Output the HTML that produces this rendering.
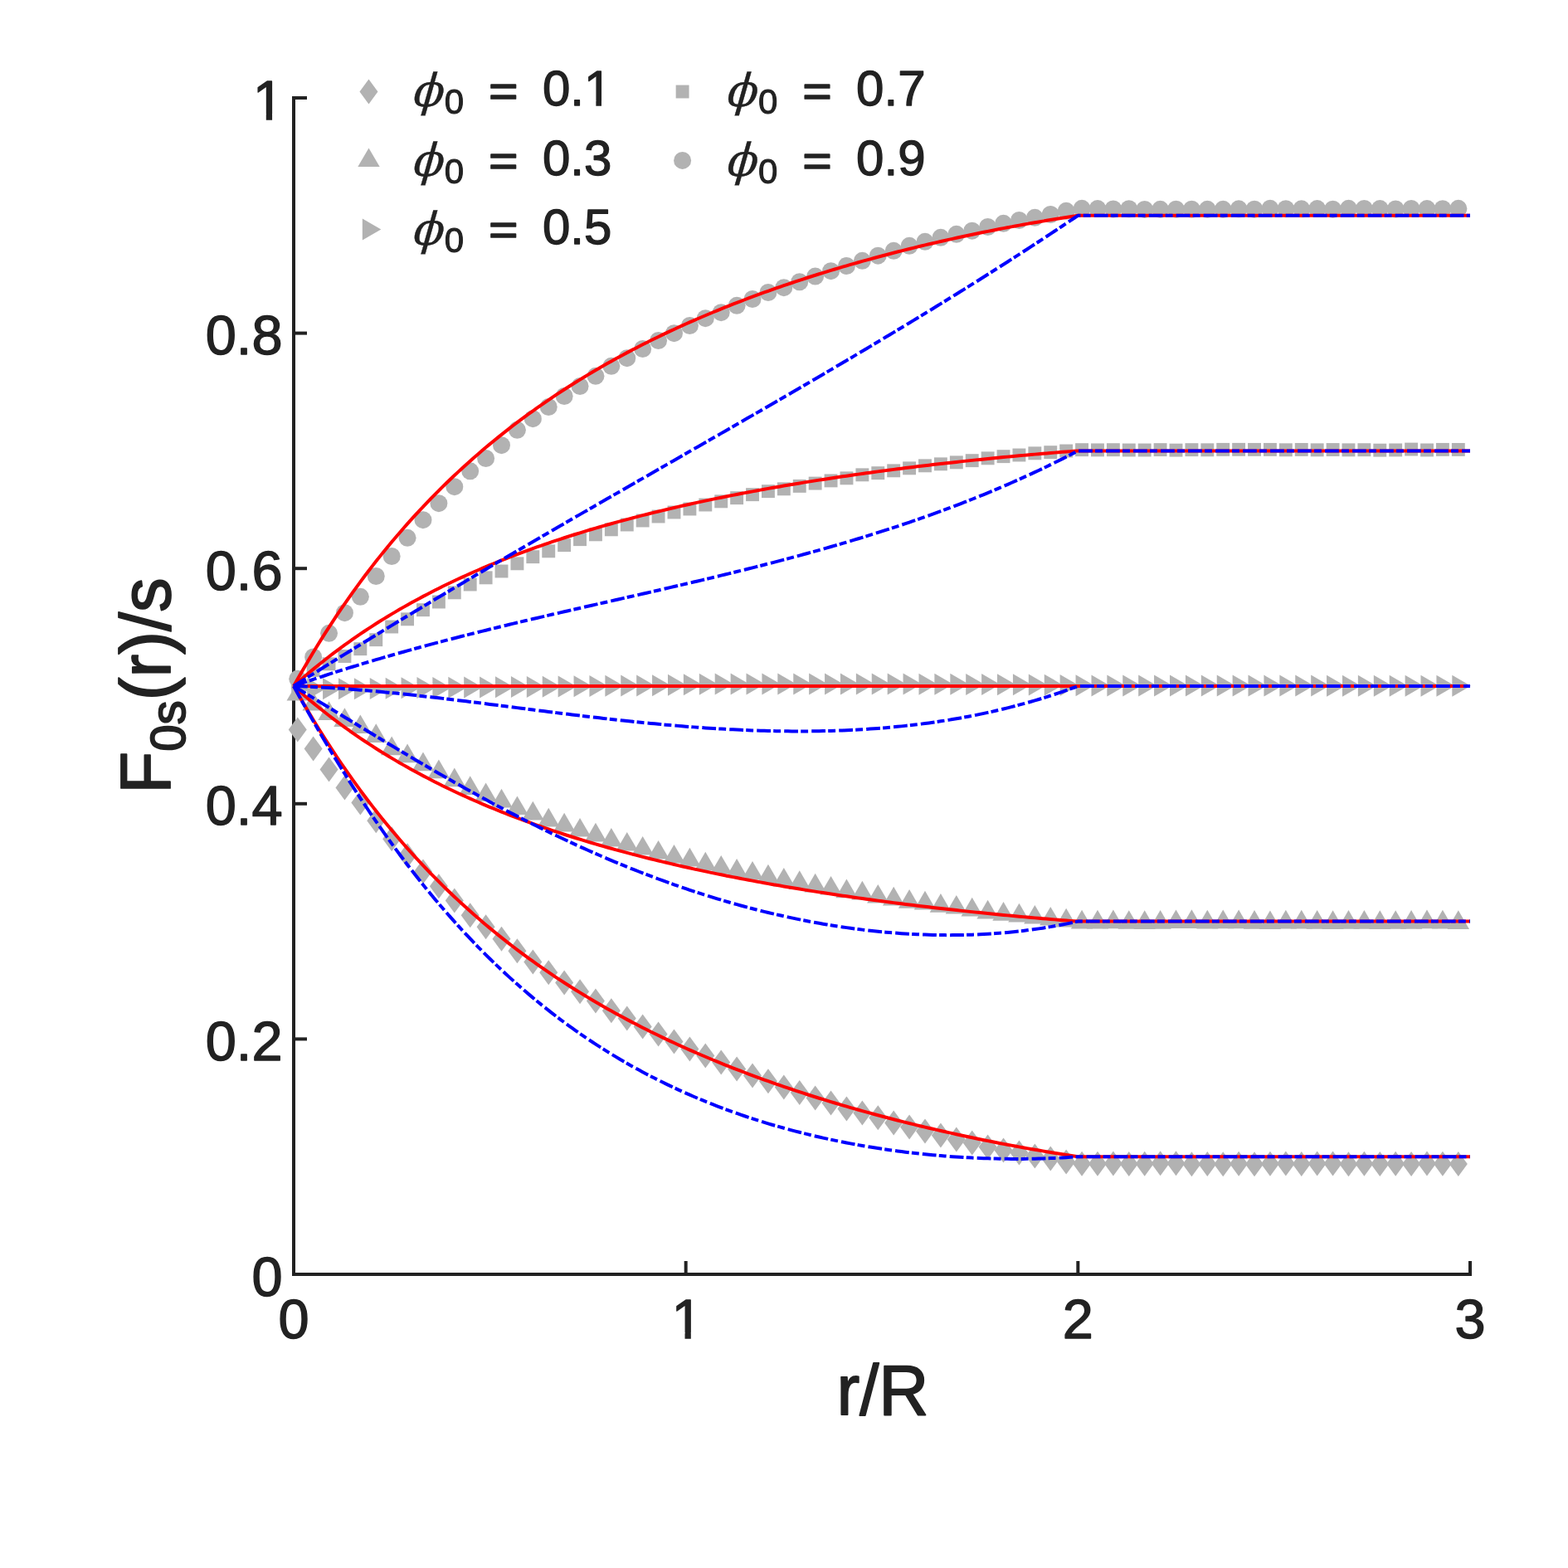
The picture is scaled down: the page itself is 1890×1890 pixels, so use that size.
<!DOCTYPE html><html><head><meta charset="utf-8"><title>F0s(r)/s</title>
<style>html,body{margin:0;padding:0;background:#fff}svg{display:block}text{font-family:"Liberation Sans",Arial,Helvetica,sans-serif;fill:#222222;stroke:#222222;stroke-linejoin:round}</style></head><body>
<svg width="1890" height="1890" viewBox="0 0 1890 1890">
<rect width="1890" height="1890" fill="#ffffff"/>
<g stroke="#222222" stroke-width="4" fill="none" stroke-linecap="butt">
<path d="M354 116V1538"/>
<path d="M352 1536H1774"/>
<path d="M354 1252.40H370"/>
<path d="M354 968.80H370"/>
<path d="M354 685.20H370"/>
<path d="M354 401.60H370"/>
<path d="M354 118.00H370"/>
<path d="M826.67 1536V1520"/>
<path d="M1299.33 1536V1520"/>
<path d="M1772.00 1536V1520"/>
</g>
<g font-size="66.7px" stroke-width="1.4">
<text x="340.5" y="1561.5" text-anchor="end">0</text>
<text x="340.5" y="1277.9" text-anchor="end">0.2</text>
<text x="340.5" y="994.3" text-anchor="end">0.4</text>
<text x="340.5" y="710.7" text-anchor="end">0.6</text>
<text x="340.5" y="427.1" text-anchor="end">0.8</text>
<text x="341.8" y="143.5" text-anchor="end">1</text>
<text x="354.0" y="1612.5" text-anchor="middle">0</text>
<text x="828.0" y="1612.5" text-anchor="middle">1</text>
<text x="1299.3" y="1612.5" text-anchor="middle">2</text>
<text x="1772.0" y="1612.5" text-anchor="middle">3</text>
</g>
<rect x="308.09" y="137.22" width="12.69" height="7.98" fill="#ffffff"/><rect x="328.07" y="137.22" width="12.17" height="7.98" fill="#ffffff"/><rect x="812.83" y="1606.22" width="12.69" height="7.98" fill="#ffffff"/><rect x="832.82" y="1606.22" width="12.17" height="7.98" fill="#ffffff"/>
<text transform="translate(1064 1704.8) scale(1 1.03)" font-size="83.3px" stroke-width="1.7" text-anchor="middle">r/R</text>
<text transform="translate(204.6 826.5) rotate(-90) scale(1 1.03)" font-size="83.3px" stroke-width="1.7" text-anchor="middle">F<tspan font-size="58.3px" dy="17.5">0s</tspan><tspan dy="-17.5">(r)/s</tspan></text>
<g fill="#b2b2b2">
<path d="M358.73 864.50L369.73 879.50L358.73 894.50L347.73 879.50Z"/>
<path d="M377.63 887.50L388.63 902.50L377.63 917.50L366.63 902.50Z"/>
<path d="M396.54 912.50L407.54 927.50L396.54 942.50L385.54 927.50Z"/>
<path d="M415.45 934.50L426.45 949.50L415.45 964.50L404.45 949.50Z"/>
<path d="M434.35 952.50L445.35 967.50L434.35 982.50L423.35 967.50Z"/>
<path d="M453.26 974.33L464.26 989.33L453.26 1004.33L442.26 989.33Z"/>
<path d="M472.17 996.17L483.17 1011.17L472.17 1026.17L461.17 1011.17Z"/>
<path d="M491.07 1016.33L502.07 1031.33L491.07 1046.33L480.07 1031.33Z"/>
<path d="M509.98 1035.50L520.98 1050.50L509.98 1065.50L498.98 1050.50Z"/>
<path d="M528.89 1053.33L539.89 1068.33L528.89 1083.33L517.89 1068.33Z"/>
<path d="M547.79 1070.50L558.79 1085.50L547.79 1100.50L536.79 1085.50Z"/>
<path d="M566.70 1088.33L577.70 1103.33L566.70 1118.33L555.70 1103.33Z"/>
<path d="M585.61 1102.17L596.61 1117.17L585.61 1132.17L574.61 1117.17Z"/>
<path d="M604.51 1116.67L615.51 1131.67L604.51 1146.67L593.51 1131.67Z"/>
<path d="M623.42 1131.17L634.42 1146.17L623.42 1161.17L612.42 1146.17Z"/>
<path d="M642.33 1144.38L653.33 1159.38L642.33 1174.38L631.33 1159.38Z"/>
<path d="M661.23 1157.33L672.23 1172.33L661.23 1187.33L650.23 1172.33Z"/>
<path d="M680.14 1169.42L691.14 1184.42L680.14 1199.42L669.14 1184.42Z"/>
<path d="M699.05 1180.25L710.05 1195.25L699.05 1210.25L688.05 1195.25Z"/>
<path d="M717.95 1191.42L728.95 1206.42L717.95 1221.42L706.95 1206.42Z"/>
<path d="M736.86 1203.33L747.86 1218.33L736.86 1233.33L725.86 1218.33Z"/>
<path d="M755.77 1212.42L766.77 1227.42L755.77 1242.42L744.77 1227.42Z"/>
<path d="M774.67 1222.50L785.67 1237.50L774.67 1252.50L763.67 1237.50Z"/>
<path d="M793.58 1231.42L804.58 1246.42L793.58 1261.42L782.58 1246.42Z"/>
<path d="M812.49 1240.42L823.49 1255.42L812.49 1270.42L801.49 1255.42Z"/>
<path d="M831.39 1249.42L842.39 1264.42L831.39 1279.42L820.39 1264.42Z"/>
<path d="M850.30 1257.50L861.30 1272.50L850.30 1287.50L839.30 1272.50Z"/>
<path d="M869.21 1265.42L880.21 1280.42L869.21 1295.42L858.21 1280.42Z"/>
<path d="M888.11 1273.42L899.11 1288.42L888.11 1303.42L877.11 1288.42Z"/>
<path d="M907.02 1281.42L918.02 1296.42L907.02 1311.42L896.02 1296.42Z"/>
<path d="M925.93 1288.33L936.93 1303.33L925.93 1318.33L914.93 1303.33Z"/>
<path d="M944.83 1295.58L955.83 1310.58L944.83 1325.58L933.83 1310.58Z"/>
<path d="M963.74 1302.11L974.74 1317.11L963.74 1332.11L952.74 1317.11Z"/>
<path d="M982.65 1308.39L993.65 1323.39L982.65 1338.39L971.65 1323.39Z"/>
<path d="M1001.55 1314.42L1012.55 1329.42L1001.55 1344.42L990.55 1329.42Z"/>
<path d="M1020.46 1321.50L1031.46 1336.50L1020.46 1351.50L1009.46 1336.50Z"/>
<path d="M1039.37 1326.42L1050.37 1341.42L1039.37 1356.42L1028.37 1341.42Z"/>
<path d="M1058.27 1332.25L1069.27 1347.25L1058.27 1362.25L1047.27 1347.25Z"/>
<path d="M1077.18 1338.50L1088.18 1353.50L1077.18 1368.50L1066.18 1353.50Z"/>
<path d="M1096.09 1343.50L1107.09 1358.50L1096.09 1373.50L1085.09 1358.50Z"/>
<path d="M1114.99 1348.50L1125.99 1363.50L1114.99 1378.50L1103.99 1363.50Z"/>
<path d="M1133.90 1353.50L1144.90 1368.50L1133.90 1383.50L1122.90 1368.50Z"/>
<path d="M1152.81 1358.50L1163.81 1373.50L1152.81 1388.50L1141.81 1373.50Z"/>
<path d="M1171.71 1362.50L1182.71 1377.50L1171.71 1392.50L1160.71 1377.50Z"/>
<path d="M1190.62 1367.50L1201.62 1382.50L1190.62 1397.50L1179.62 1382.50Z"/>
<path d="M1209.53 1371.42L1220.53 1386.42L1209.53 1401.42L1198.53 1386.42Z"/>
<path d="M1228.43 1374.42L1239.43 1389.42L1228.43 1404.42L1217.43 1389.42Z"/>
<path d="M1247.34 1378.58L1258.34 1393.58L1247.34 1408.58L1236.34 1393.58Z"/>
<path d="M1266.25 1381.50L1277.25 1396.50L1266.25 1411.50L1255.25 1396.50Z"/>
<path d="M1285.15 1385.42L1296.15 1400.42L1285.15 1415.42L1274.15 1400.42Z"/>
<path d="M1304.06 1387.67L1315.06 1402.67L1304.06 1417.67L1293.06 1402.67Z"/>
<path d="M1322.97 1387.65L1333.97 1402.65L1322.97 1417.65L1311.97 1402.65Z"/>
<path d="M1341.87 1387.46L1352.87 1402.46L1341.87 1417.46L1330.87 1402.46Z"/>
<path d="M1360.78 1387.96L1371.78 1402.96L1360.78 1417.96L1349.78 1402.96Z"/>
<path d="M1379.69 1387.70L1390.69 1402.70L1379.69 1417.70L1368.69 1402.70Z"/>
<path d="M1398.59 1387.24L1409.59 1402.24L1398.59 1417.24L1387.59 1402.24Z"/>
<path d="M1417.50 1387.23L1428.50 1402.23L1417.50 1417.23L1406.50 1402.23Z"/>
<path d="M1436.41 1388.16L1447.41 1403.16L1436.41 1418.16L1425.41 1403.16Z"/>
<path d="M1455.31 1388.06L1466.31 1403.06L1455.31 1418.06L1444.31 1403.06Z"/>
<path d="M1474.22 1388.25L1485.22 1403.25L1474.22 1418.25L1463.22 1403.25Z"/>
<path d="M1493.13 1387.78L1504.13 1402.78L1493.13 1417.78L1482.13 1402.78Z"/>
<path d="M1512.03 1388.27L1523.03 1403.27L1512.03 1418.27L1501.03 1403.27Z"/>
<path d="M1530.94 1387.76L1541.94 1402.76L1530.94 1417.76L1519.94 1402.76Z"/>
<path d="M1549.85 1387.53L1560.85 1402.53L1549.85 1417.53L1538.85 1402.53Z"/>
<path d="M1568.75 1387.97L1579.75 1402.97L1568.75 1417.97L1557.75 1402.97Z"/>
<path d="M1587.66 1387.50L1598.66 1402.50L1587.66 1417.50L1576.66 1402.50Z"/>
<path d="M1606.57 1387.60L1617.57 1402.60L1606.57 1417.60L1595.57 1402.60Z"/>
<path d="M1625.47 1388.28L1636.47 1403.28L1625.47 1418.28L1614.47 1403.28Z"/>
<path d="M1644.38 1387.64L1655.38 1402.64L1644.38 1417.64L1633.38 1402.64Z"/>
<path d="M1663.29 1388.00L1674.29 1403.00L1663.29 1418.00L1652.29 1403.00Z"/>
<path d="M1682.19 1387.81L1693.19 1402.81L1682.19 1417.81L1671.19 1402.81Z"/>
<path d="M1701.10 1387.97L1712.10 1402.97L1701.10 1417.97L1690.10 1402.97Z"/>
<path d="M1720.01 1387.48L1731.01 1402.48L1720.01 1417.48L1709.01 1402.48Z"/>
<path d="M1738.91 1387.78L1749.91 1402.78L1738.91 1417.78L1727.91 1402.78Z"/>
<path d="M1757.82 1388.12L1768.82 1403.12L1757.82 1418.12L1746.82 1403.12Z"/>
<path d="M358.73 821.90L371.93 844.60L345.53 844.60Z"/>
<path d="M377.63 833.90L390.83 856.60L364.43 856.60Z"/>
<path d="M396.54 845.23L409.74 867.93L383.34 867.93Z"/>
<path d="M415.45 853.23L428.65 875.93L402.25 875.93Z"/>
<path d="M434.35 861.40L447.55 884.10L421.15 884.10Z"/>
<path d="M453.26 872.23L466.46 894.93L440.06 894.93Z"/>
<path d="M472.17 887.57L485.37 910.27L458.97 910.27Z"/>
<path d="M491.07 896.57L504.27 919.27L477.87 919.27Z"/>
<path d="M509.98 906.57L523.18 929.27L496.78 929.27Z"/>
<path d="M528.89 915.57L542.09 938.27L515.69 938.27Z"/>
<path d="M547.79 925.57L560.99 948.27L534.59 948.27Z"/>
<path d="M566.70 935.23L579.90 957.93L553.50 957.93Z"/>
<path d="M585.61 943.40L598.81 966.10L572.41 966.10Z"/>
<path d="M604.51 950.73L617.71 973.43L591.31 973.43Z"/>
<path d="M623.42 959.40L636.62 982.10L610.22 982.10Z"/>
<path d="M642.33 965.73L655.53 988.43L629.13 988.43Z"/>
<path d="M661.23 973.73L674.43 996.43L648.03 996.43Z"/>
<path d="M680.14 979.73L693.34 1002.43L666.94 1002.43Z"/>
<path d="M699.05 985.90L712.25 1008.60L685.85 1008.60Z"/>
<path d="M717.95 991.73L731.15 1014.43L704.75 1014.43Z"/>
<path d="M736.86 997.90L750.06 1020.60L723.66 1020.60Z"/>
<path d="M755.77 1002.90L768.97 1025.60L742.57 1025.60Z"/>
<path d="M774.67 1007.90L787.87 1030.60L761.47 1030.60Z"/>
<path d="M793.58 1012.90L806.78 1035.60L780.38 1035.60Z"/>
<path d="M812.49 1017.90L825.69 1040.60L799.29 1040.60Z"/>
<path d="M831.39 1021.73L844.59 1044.43L818.19 1044.43Z"/>
<path d="M850.30 1026.73L863.50 1049.43L837.10 1049.43Z"/>
<path d="M869.21 1030.90L882.41 1053.60L856.01 1053.60Z"/>
<path d="M888.11 1035.07L901.31 1057.77L874.91 1057.77Z"/>
<path d="M907.02 1037.90L920.22 1060.60L893.82 1060.60Z"/>
<path d="M925.93 1041.73L939.13 1064.43L912.73 1064.43Z"/>
<path d="M944.83 1045.90L958.03 1068.60L931.63 1068.60Z"/>
<path d="M963.74 1049.36L976.94 1072.06L950.54 1072.06Z"/>
<path d="M982.65 1052.69L995.85 1075.39L969.45 1075.39Z"/>
<path d="M1001.55 1055.90L1014.75 1078.60L988.35 1078.60Z"/>
<path d="M1020.46 1059.57L1033.66 1082.27L1007.26 1082.27Z"/>
<path d="M1039.37 1061.73L1052.57 1084.43L1026.17 1084.43Z"/>
<path d="M1058.27 1065.90L1071.47 1088.60L1045.07 1088.60Z"/>
<path d="M1077.18 1068.73L1090.38 1091.43L1063.98 1091.43Z"/>
<path d="M1096.09 1072.07L1109.29 1094.77L1082.89 1094.77Z"/>
<path d="M1114.99 1073.73L1128.19 1096.43L1101.79 1096.43Z"/>
<path d="M1133.90 1077.07L1147.10 1099.77L1120.70 1099.77Z"/>
<path d="M1152.81 1078.90L1166.01 1101.60L1139.61 1101.60Z"/>
<path d="M1171.71 1081.73L1184.91 1104.43L1158.51 1104.43Z"/>
<path d="M1190.62 1084.73L1203.82 1107.43L1177.42 1107.43Z"/>
<path d="M1209.53 1087.07L1222.73 1109.77L1196.33 1109.77Z"/>
<path d="M1228.43 1088.73L1241.63 1111.43L1215.23 1111.43Z"/>
<path d="M1247.34 1090.90L1260.54 1113.60L1234.14 1113.60Z"/>
<path d="M1266.25 1092.90L1279.45 1115.60L1253.05 1115.60Z"/>
<path d="M1285.15 1094.73L1298.35 1117.43L1271.95 1117.43Z"/>
<path d="M1304.06 1096.73L1317.26 1119.43L1290.86 1119.43Z"/>
<path d="M1322.97 1096.86L1336.17 1119.56L1309.77 1119.56Z"/>
<path d="M1341.87 1096.58L1355.07 1119.28L1328.67 1119.28Z"/>
<path d="M1360.78 1097.15L1373.98 1119.85L1347.58 1119.85Z"/>
<path d="M1379.69 1097.25L1392.89 1119.95L1366.49 1119.95Z"/>
<path d="M1398.59 1097.05L1411.79 1119.75L1385.39 1119.75Z"/>
<path d="M1417.50 1096.39L1430.70 1119.09L1404.30 1119.09Z"/>
<path d="M1436.41 1096.35L1449.61 1119.05L1423.21 1119.05Z"/>
<path d="M1455.31 1096.71L1468.51 1119.41L1442.11 1119.41Z"/>
<path d="M1474.22 1096.43L1487.42 1119.13L1461.02 1119.13Z"/>
<path d="M1493.13 1096.50L1506.33 1119.20L1479.93 1119.20Z"/>
<path d="M1512.03 1097.06L1525.23 1119.76L1498.83 1119.76Z"/>
<path d="M1530.94 1097.41L1544.14 1120.11L1517.74 1120.11Z"/>
<path d="M1549.85 1096.73L1563.05 1119.43L1536.65 1119.43Z"/>
<path d="M1568.75 1096.85L1581.95 1119.55L1555.55 1119.55Z"/>
<path d="M1587.66 1097.08L1600.86 1119.78L1574.46 1119.78Z"/>
<path d="M1606.57 1097.25L1619.77 1119.95L1593.37 1119.95Z"/>
<path d="M1625.47 1097.03L1638.67 1119.73L1612.27 1119.73Z"/>
<path d="M1644.38 1096.96L1657.58 1119.66L1631.18 1119.66Z"/>
<path d="M1663.29 1097.19L1676.49 1119.89L1650.09 1119.89Z"/>
<path d="M1682.19 1097.17L1695.39 1119.87L1668.99 1119.87Z"/>
<path d="M1701.10 1096.97L1714.30 1119.67L1687.90 1119.67Z"/>
<path d="M1720.01 1096.49L1733.21 1119.19L1706.81 1119.19Z"/>
<path d="M1738.91 1096.81L1752.11 1119.51L1725.71 1119.51Z"/>
<path d="M1757.82 1097.18L1771.02 1119.88L1744.62 1119.88Z"/>
<path d="M373.73 830.40L351.23 843.40L351.23 817.40Z"/>
<path d="M392.63 830.36L370.13 843.36L370.13 817.36Z"/>
<path d="M411.54 830.32L389.04 843.32L389.04 817.32Z"/>
<path d="M430.45 830.27L407.95 843.27L407.95 817.27Z"/>
<path d="M449.35 830.23L426.85 843.23L426.85 817.23Z"/>
<path d="M468.26 830.10L445.76 843.10L445.76 817.10Z"/>
<path d="M487.17 829.70L464.67 842.70L464.67 816.70Z"/>
<path d="M506.07 829.30L483.57 842.30L483.57 816.30Z"/>
<path d="M524.98 829.07L502.48 842.07L502.48 816.07Z"/>
<path d="M543.89 828.90L521.39 841.90L521.39 815.90Z"/>
<path d="M562.79 828.73L540.29 841.73L540.29 815.73Z"/>
<path d="M581.70 828.56L559.20 841.56L559.20 815.56Z"/>
<path d="M600.61 828.39L578.11 841.39L578.11 815.39Z"/>
<path d="M619.51 828.22L597.01 841.22L597.01 815.22Z"/>
<path d="M638.42 828.05L615.92 841.05L615.92 815.05Z"/>
<path d="M657.33 827.88L634.83 840.88L634.83 814.88Z"/>
<path d="M676.23 827.67L653.73 840.67L653.73 814.67Z"/>
<path d="M695.14 827.40L672.64 840.40L672.64 814.40Z"/>
<path d="M714.05 827.13L691.55 840.13L691.55 814.13Z"/>
<path d="M732.95 826.92L710.45 839.92L710.45 813.92Z"/>
<path d="M751.86 826.75L729.36 839.75L729.36 813.75Z"/>
<path d="M770.77 826.58L748.27 839.58L748.27 813.58Z"/>
<path d="M789.67 826.38L767.17 839.38L767.17 813.38Z"/>
<path d="M808.58 826.13L786.08 839.13L786.08 813.13Z"/>
<path d="M827.49 825.72L804.99 838.72L804.99 812.72Z"/>
<path d="M846.39 825.21L823.89 838.21L823.89 812.21Z"/>
<path d="M865.30 824.86L842.80 837.86L842.80 811.86Z"/>
<path d="M884.21 824.60L861.71 837.60L861.71 811.60Z"/>
<path d="M903.11 824.60L880.61 837.60L880.61 811.60Z"/>
<path d="M922.02 824.60L899.52 837.60L899.52 811.60Z"/>
<path d="M940.93 824.60L918.43 837.60L918.43 811.60Z"/>
<path d="M959.83 824.60L937.33 837.60L937.33 811.60Z"/>
<path d="M978.74 824.60L956.24 837.60L956.24 811.60Z"/>
<path d="M997.65 824.60L975.15 837.60L975.15 811.60Z"/>
<path d="M1016.55 824.60L994.05 837.60L994.05 811.60Z"/>
<path d="M1035.46 824.60L1012.96 837.60L1012.96 811.60Z"/>
<path d="M1054.37 824.60L1031.87 837.60L1031.87 811.60Z"/>
<path d="M1073.27 824.60L1050.77 837.60L1050.77 811.60Z"/>
<path d="M1092.18 824.60L1069.68 837.60L1069.68 811.60Z"/>
<path d="M1111.09 824.60L1088.59 837.60L1088.59 811.60Z"/>
<path d="M1129.99 824.63L1107.49 837.63L1107.49 811.63Z"/>
<path d="M1148.90 824.75L1126.40 837.75L1126.40 811.75Z"/>
<path d="M1167.81 824.87L1145.31 837.87L1145.31 811.87Z"/>
<path d="M1186.71 824.99L1164.21 837.99L1164.21 811.99Z"/>
<path d="M1205.62 825.11L1183.12 838.11L1183.12 812.11Z"/>
<path d="M1224.53 825.23L1202.03 838.23L1202.03 812.23Z"/>
<path d="M1243.43 825.35L1220.93 838.35L1220.93 812.35Z"/>
<path d="M1262.34 825.47L1239.84 838.47L1239.84 812.47Z"/>
<path d="M1281.25 825.70L1258.75 838.70L1258.75 812.70Z"/>
<path d="M1300.15 825.97L1277.65 838.97L1277.65 812.97Z"/>
<path d="M1319.06 826.23L1296.56 839.23L1296.56 813.23Z"/>
<path d="M1337.97 826.50L1315.47 839.50L1315.47 813.50Z"/>
<path d="M1356.87 826.51L1334.37 839.51L1334.37 813.51Z"/>
<path d="M1375.78 826.52L1353.28 839.52L1353.28 813.52Z"/>
<path d="M1394.69 826.53L1372.19 839.53L1372.19 813.53Z"/>
<path d="M1413.59 826.53L1391.09 839.53L1391.09 813.53Z"/>
<path d="M1432.50 826.54L1410.00 839.54L1410.00 813.54Z"/>
<path d="M1451.41 826.55L1428.91 839.55L1428.91 813.55Z"/>
<path d="M1470.31 826.56L1447.81 839.56L1447.81 813.56Z"/>
<path d="M1489.22 826.57L1466.72 839.57L1466.72 813.57Z"/>
<path d="M1508.13 826.58L1485.63 839.58L1485.63 813.58Z"/>
<path d="M1527.03 826.58L1504.53 839.58L1504.53 813.58Z"/>
<path d="M1545.94 826.59L1523.44 839.59L1523.44 813.59Z"/>
<path d="M1564.85 826.60L1542.35 839.60L1542.35 813.60Z"/>
<path d="M1583.75 826.61L1561.25 839.61L1561.25 813.61Z"/>
<path d="M1602.66 826.62L1580.16 839.62L1580.16 813.62Z"/>
<path d="M1621.57 826.63L1599.07 839.63L1599.07 813.63Z"/>
<path d="M1640.47 826.63L1617.97 839.63L1617.97 813.63Z"/>
<path d="M1659.38 826.64L1636.88 839.64L1636.88 813.64Z"/>
<path d="M1678.29 826.65L1655.79 839.65L1655.79 813.65Z"/>
<path d="M1697.19 826.66L1674.69 839.66L1674.69 813.66Z"/>
<path d="M1716.10 826.67L1693.60 839.67L1693.60 813.67Z"/>
<path d="M1735.01 826.68L1712.51 839.68L1712.51 813.68Z"/>
<path d="M1753.91 826.69L1731.41 839.69L1731.41 813.69Z"/>
<path d="M1772.82 826.69L1750.32 839.69L1750.32 813.69Z"/>
<rect x="350.78" y="814.83" width="15.90" height="15.90"/>
<rect x="369.68" y="799.99" width="15.90" height="15.90"/>
<rect x="388.59" y="792.37" width="15.90" height="15.90"/>
<rect x="407.50" y="783.05" width="15.90" height="15.90"/>
<rect x="426.40" y="774.22" width="15.90" height="15.90"/>
<rect x="445.31" y="763.22" width="15.90" height="15.90"/>
<rect x="464.22" y="747.55" width="15.90" height="15.90"/>
<rect x="483.12" y="738.38" width="15.90" height="15.90"/>
<rect x="502.03" y="727.22" width="15.90" height="15.90"/>
<rect x="520.94" y="717.55" width="15.90" height="15.90"/>
<rect x="539.84" y="706.38" width="15.90" height="15.90"/>
<rect x="558.75" y="696.55" width="15.90" height="15.90"/>
<rect x="577.66" y="688.38" width="15.90" height="15.90"/>
<rect x="596.56" y="680.55" width="15.90" height="15.90"/>
<rect x="615.47" y="671.38" width="15.90" height="15.90"/>
<rect x="634.38" y="663.22" width="15.90" height="15.90"/>
<rect x="653.28" y="656.38" width="15.90" height="15.90"/>
<rect x="672.19" y="649.22" width="15.90" height="15.90"/>
<rect x="691.10" y="642.22" width="15.90" height="15.90"/>
<rect x="710.00" y="636.38" width="15.90" height="15.90"/>
<rect x="728.91" y="630.38" width="15.90" height="15.90"/>
<rect x="747.82" y="624.55" width="15.90" height="15.90"/>
<rect x="766.72" y="619.55" width="15.90" height="15.90"/>
<rect x="785.63" y="614.55" width="15.90" height="15.90"/>
<rect x="804.54" y="609.55" width="15.90" height="15.90"/>
<rect x="823.44" y="605.55" width="15.90" height="15.90"/>
<rect x="842.35" y="600.55" width="15.90" height="15.90"/>
<rect x="861.26" y="596.38" width="15.90" height="15.90"/>
<rect x="880.16" y="592.22" width="15.90" height="15.90"/>
<rect x="899.07" y="588.22" width="15.90" height="15.90"/>
<rect x="917.98" y="584.22" width="15.90" height="15.90"/>
<rect x="936.88" y="581.38" width="15.90" height="15.90"/>
<rect x="955.79" y="577.95" width="15.90" height="15.90"/>
<rect x="974.70" y="574.64" width="15.90" height="15.90"/>
<rect x="993.60" y="571.45" width="15.90" height="15.90"/>
<rect x="1012.51" y="568.38" width="15.90" height="15.90"/>
<rect x="1031.42" y="564.38" width="15.90" height="15.90"/>
<rect x="1050.32" y="562.22" width="15.90" height="15.90"/>
<rect x="1069.23" y="559.38" width="15.90" height="15.90"/>
<rect x="1088.14" y="556.38" width="15.90" height="15.90"/>
<rect x="1107.04" y="553.38" width="15.90" height="15.90"/>
<rect x="1125.95" y="551.38" width="15.90" height="15.90"/>
<rect x="1144.86" y="549.38" width="15.90" height="15.90"/>
<rect x="1163.76" y="547.22" width="15.90" height="15.90"/>
<rect x="1182.67" y="544.38" width="15.90" height="15.90"/>
<rect x="1201.58" y="542.22" width="15.90" height="15.90"/>
<rect x="1220.48" y="540.55" width="15.90" height="15.90"/>
<rect x="1239.39" y="538.38" width="15.90" height="15.90"/>
<rect x="1258.30" y="537.22" width="15.90" height="15.90"/>
<rect x="1277.20" y="535.55" width="15.90" height="15.90"/>
<rect x="1296.11" y="534.22" width="15.90" height="15.90"/>
<rect x="1315.02" y="534.44" width="15.90" height="15.90"/>
<rect x="1333.92" y="534.23" width="15.90" height="15.90"/>
<rect x="1352.83" y="534.53" width="15.90" height="15.90"/>
<rect x="1371.74" y="534.53" width="15.90" height="15.90"/>
<rect x="1390.64" y="534.16" width="15.90" height="15.90"/>
<rect x="1409.55" y="534.67" width="15.90" height="15.90"/>
<rect x="1428.46" y="534.19" width="15.90" height="15.90"/>
<rect x="1447.36" y="534.34" width="15.90" height="15.90"/>
<rect x="1466.27" y="533.92" width="15.90" height="15.90"/>
<rect x="1485.18" y="533.88" width="15.90" height="15.90"/>
<rect x="1504.08" y="533.94" width="15.90" height="15.90"/>
<rect x="1522.99" y="533.95" width="15.90" height="15.90"/>
<rect x="1541.90" y="534.33" width="15.90" height="15.90"/>
<rect x="1560.80" y="533.97" width="15.90" height="15.90"/>
<rect x="1579.71" y="534.37" width="15.90" height="15.90"/>
<rect x="1598.62" y="534.09" width="15.90" height="15.90"/>
<rect x="1617.52" y="534.38" width="15.90" height="15.90"/>
<rect x="1636.43" y="534.24" width="15.90" height="15.90"/>
<rect x="1655.34" y="534.70" width="15.90" height="15.90"/>
<rect x="1674.24" y="534.48" width="15.90" height="15.90"/>
<rect x="1693.15" y="533.61" width="15.90" height="15.90"/>
<rect x="1712.06" y="534.50" width="15.90" height="15.90"/>
<rect x="1730.96" y="533.94" width="15.90" height="15.90"/>
<rect x="1749.87" y="533.99" width="15.90" height="15.90"/>
<circle cx="358.73" cy="818.33" r="10.5"/>
<circle cx="377.63" cy="792.00" r="10.5"/>
<circle cx="396.54" cy="763.33" r="10.5"/>
<circle cx="415.45" cy="738.67" r="10.5"/>
<circle cx="434.35" cy="719.33" r="10.5"/>
<circle cx="453.26" cy="694.50" r="10.5"/>
<circle cx="472.17" cy="670.50" r="10.5"/>
<circle cx="491.07" cy="648.33" r="10.5"/>
<circle cx="509.98" cy="626.67" r="10.5"/>
<circle cx="528.89" cy="606.67" r="10.5"/>
<circle cx="547.79" cy="586.67" r="10.5"/>
<circle cx="566.70" cy="567.83" r="10.5"/>
<circle cx="585.61" cy="552.50" r="10.5"/>
<circle cx="604.51" cy="536.67" r="10.5"/>
<circle cx="623.42" cy="518.33" r="10.5"/>
<circle cx="642.33" cy="504.67" r="10.5"/>
<circle cx="661.23" cy="490.50" r="10.5"/>
<circle cx="680.14" cy="477.50" r="10.5"/>
<circle cx="699.05" cy="465.50" r="10.5"/>
<circle cx="717.95" cy="453.33" r="10.5"/>
<circle cx="736.86" cy="441.33" r="10.5"/>
<circle cx="755.77" cy="431.67" r="10.5"/>
<circle cx="774.67" cy="420.50" r="10.5"/>
<circle cx="793.58" cy="410.50" r="10.5"/>
<circle cx="812.49" cy="401.67" r="10.5"/>
<circle cx="831.39" cy="392.50" r="10.5"/>
<circle cx="850.30" cy="383.67" r="10.5"/>
<circle cx="869.21" cy="376.67" r="10.5"/>
<circle cx="888.11" cy="368.33" r="10.5"/>
<circle cx="907.02" cy="360.50" r="10.5"/>
<circle cx="925.93" cy="352.50" r="10.5"/>
<circle cx="944.83" cy="346.67" r="10.5"/>
<circle cx="963.74" cy="339.75" r="10.5"/>
<circle cx="982.65" cy="333.10" r="10.5"/>
<circle cx="1001.55" cy="326.68" r="10.5"/>
<circle cx="1020.46" cy="320.50" r="10.5"/>
<circle cx="1039.37" cy="314.33" r="10.5"/>
<circle cx="1058.27" cy="308.17" r="10.5"/>
<circle cx="1077.18" cy="302.33" r="10.5"/>
<circle cx="1096.09" cy="296.33" r="10.5"/>
<circle cx="1114.99" cy="291.33" r="10.5"/>
<circle cx="1133.90" cy="286.33" r="10.5"/>
<circle cx="1152.81" cy="282.33" r="10.5"/>
<circle cx="1171.71" cy="278.17" r="10.5"/>
<circle cx="1190.62" cy="273.50" r="10.5"/>
<circle cx="1209.53" cy="269.33" r="10.5"/>
<circle cx="1228.43" cy="265.50" r="10.5"/>
<circle cx="1247.34" cy="262.33" r="10.5"/>
<circle cx="1266.25" cy="258.50" r="10.5"/>
<circle cx="1285.15" cy="254.33" r="10.5"/>
<circle cx="1304.06" cy="251.33" r="10.5"/>
<circle cx="1322.97" cy="251.59" r="10.5"/>
<circle cx="1341.87" cy="251.89" r="10.5"/>
<circle cx="1360.78" cy="251.74" r="10.5"/>
<circle cx="1379.69" cy="252.38" r="10.5"/>
<circle cx="1398.59" cy="252.37" r="10.5"/>
<circle cx="1417.50" cy="252.22" r="10.5"/>
<circle cx="1436.41" cy="252.28" r="10.5"/>
<circle cx="1455.31" cy="252.34" r="10.5"/>
<circle cx="1474.22" cy="252.30" r="10.5"/>
<circle cx="1493.13" cy="251.80" r="10.5"/>
<circle cx="1512.03" cy="252.23" r="10.5"/>
<circle cx="1530.94" cy="251.32" r="10.5"/>
<circle cx="1549.85" cy="251.64" r="10.5"/>
<circle cx="1568.75" cy="251.81" r="10.5"/>
<circle cx="1587.66" cy="251.61" r="10.5"/>
<circle cx="1606.57" cy="252.14" r="10.5"/>
<circle cx="1625.47" cy="251.35" r="10.5"/>
<circle cx="1644.38" cy="251.45" r="10.5"/>
<circle cx="1663.29" cy="251.59" r="10.5"/>
<circle cx="1682.19" cy="251.88" r="10.5"/>
<circle cx="1701.10" cy="251.45" r="10.5"/>
<circle cx="1720.01" cy="251.57" r="10.5"/>
<circle cx="1738.91" cy="251.67" r="10.5"/>
<circle cx="1757.82" cy="251.36" r="10.5"/>
</g>
<g fill="none" stroke="#ff0000" stroke-width="4" stroke-linejoin="round">
<path d="M354.00 827.00L358.73 835.43L363.45 843.72L368.18 851.87L372.91 859.88L377.63 867.75L382.36 875.49L387.09 883.09L391.81 890.57L396.54 897.93L401.27 905.17L405.99 912.28L410.72 919.28L415.45 926.16L420.17 932.94L424.90 939.60L429.63 946.16L434.35 952.61L439.08 958.96L443.81 965.21L448.53 971.36L453.26 977.41L457.99 983.37L462.71 989.24L467.44 995.02L472.17 1000.71L476.89 1006.31L481.62 1011.82L486.35 1017.26L491.07 1022.61L495.80 1027.88L500.53 1033.07L505.25 1038.18L509.98 1043.22L514.71 1048.19L519.43 1053.08L524.16 1057.90L528.89 1062.65L533.61 1067.33L538.34 1071.95L543.07 1076.50L547.79 1080.98L552.52 1085.40L557.25 1089.76L561.97 1094.05L566.70 1098.29L571.43 1102.47L576.15 1106.59L580.88 1110.65L585.61 1114.66L590.33 1118.61L595.06 1122.51L599.79 1126.35L604.51 1130.15L609.24 1133.89L613.97 1137.58L618.69 1141.23L623.42 1144.82L628.15 1148.37L632.87 1151.87L637.60 1155.33L642.33 1158.74L647.05 1162.10L651.78 1165.42L656.51 1168.70L661.23 1171.94L665.96 1175.14L670.69 1178.29L675.41 1181.41L680.14 1184.49L684.87 1187.52L689.59 1190.52L694.32 1193.49L699.05 1196.41L703.77 1199.30L708.50 1202.16L713.23 1204.98L717.95 1207.76L722.68 1210.51L727.41 1213.23L732.13 1215.92L736.86 1218.57L741.59 1221.19L746.31 1223.78L751.04 1226.34L755.77 1228.87L760.49 1231.37L765.22 1233.84L769.95 1236.28L774.67 1238.70L779.40 1241.08L784.13 1243.44L788.85 1245.77L793.58 1248.07L798.31 1250.35L803.03 1252.60L807.76 1254.83L812.49 1257.03L817.21 1259.21L821.94 1261.36L826.67 1263.49L831.39 1265.59L836.12 1267.67L840.85 1269.73L845.57 1271.77L850.30 1273.78L855.03 1275.77L859.75 1277.74L864.48 1279.69L869.21 1281.62L873.93 1283.52L878.66 1285.41L883.39 1287.27L888.11 1289.12L892.84 1290.95L897.57 1292.75L902.29 1294.54L907.02 1296.31L911.75 1298.06L916.47 1299.79L921.20 1301.51L925.93 1303.20L930.65 1304.88L935.38 1306.54L940.11 1308.18L944.83 1309.81L949.56 1311.42L954.29 1313.01L959.01 1314.59L963.74 1316.15L968.47 1317.70L973.19 1319.23L977.92 1320.74L982.65 1322.24L987.37 1323.72L992.10 1325.19L996.83 1326.64L1001.55 1328.08L1006.28 1329.50L1011.01 1330.91L1015.73 1332.31L1020.46 1333.69L1025.19 1335.06L1029.91 1336.41L1034.64 1337.75L1039.37 1339.08L1044.09 1340.39L1048.82 1341.69L1053.55 1342.98L1058.27 1344.25L1063.00 1345.52L1067.73 1346.77L1072.45 1348.00L1077.18 1349.23L1081.91 1350.44L1086.63 1351.64L1091.36 1352.83L1096.09 1354.00L1100.81 1355.17L1105.54 1356.32L1110.27 1357.46L1114.99 1358.59L1119.72 1359.70L1124.45 1360.81L1129.17 1361.91L1133.90 1362.99L1138.63 1364.06L1143.35 1365.12L1148.08 1366.17L1152.81 1367.21L1157.53 1368.24L1162.26 1369.26L1166.99 1370.26L1171.71 1371.26L1176.44 1372.24L1181.17 1373.22L1185.89 1374.18L1190.62 1375.14L1195.35 1376.08L1200.07 1377.01L1204.80 1377.93L1209.53 1378.85L1214.25 1379.75L1218.98 1380.64L1223.71 1381.52L1228.43 1382.39L1233.16 1383.25L1237.89 1384.10L1242.61 1384.94L1247.34 1385.77L1252.07 1386.59L1256.79 1387.39L1261.52 1388.19L1266.25 1388.98L1270.97 1389.76L1275.70 1390.52L1280.43 1391.28L1285.15 1392.03L1289.88 1392.76L1294.61 1393.49L1299.33 1394.20L1772.00 1394.20"/>
<path d="M354.00 827.00L358.73 831.22L363.45 835.36L368.18 839.43L372.91 843.44L377.63 847.37L382.36 851.24L387.09 855.05L391.81 858.79L396.54 862.47L401.27 866.08L405.99 869.64L410.72 873.14L415.45 876.58L420.17 879.97L424.90 883.30L429.63 886.58L434.35 889.81L439.08 892.98L443.81 896.10L448.53 899.18L453.26 902.21L457.99 905.19L462.71 908.12L467.44 911.01L472.17 913.85L476.89 916.65L481.62 919.41L486.35 922.13L491.07 924.80L495.80 927.44L500.53 930.03L505.25 932.59L509.98 935.11L514.71 937.59L519.43 940.04L524.16 942.45L528.89 944.82L533.61 947.17L538.34 949.47L543.07 951.75L547.79 953.99L552.52 956.20L557.25 958.38L561.97 960.53L566.70 962.65L571.43 964.73L576.15 966.79L580.88 968.83L585.61 970.83L590.33 972.81L595.06 974.75L599.79 976.68L604.51 978.57L609.24 980.45L613.97 982.29L618.69 984.11L623.42 985.91L628.15 987.68L632.87 989.44L637.60 991.16L642.33 992.87L647.05 994.55L651.78 996.21L656.51 997.85L661.23 999.47L665.96 1001.07L670.69 1002.65L675.41 1004.20L680.14 1005.74L684.87 1007.26L689.59 1008.76L694.32 1010.24L699.05 1011.71L703.77 1013.15L708.50 1014.58L713.23 1015.99L717.95 1017.38L722.68 1018.76L727.41 1020.12L732.13 1021.46L736.86 1022.78L741.59 1024.10L746.31 1025.39L751.04 1026.67L755.77 1027.94L760.49 1029.19L765.22 1030.42L769.95 1031.64L774.67 1032.85L779.40 1034.04L784.13 1035.22L788.85 1036.38L793.58 1037.54L798.31 1038.68L803.03 1039.80L807.76 1040.91L812.49 1042.02L817.21 1043.10L821.94 1044.18L826.67 1045.24L831.39 1046.30L836.12 1047.34L840.85 1048.37L845.57 1049.38L850.30 1050.39L855.03 1051.39L859.75 1052.37L864.48 1053.34L869.21 1054.31L873.93 1055.26L878.66 1056.20L883.39 1057.14L888.11 1058.06L892.84 1058.97L897.57 1059.88L902.29 1060.77L907.02 1061.65L911.75 1062.53L916.47 1063.40L921.20 1064.25L925.93 1065.10L930.65 1065.94L935.38 1066.77L940.11 1067.59L944.83 1068.41L949.56 1069.21L954.29 1070.01L959.01 1070.80L963.74 1071.58L968.47 1072.35L973.19 1073.11L977.92 1073.87L982.65 1074.62L987.37 1075.36L992.10 1076.09L996.83 1076.82L1001.55 1077.54L1006.28 1078.25L1011.01 1078.96L1015.73 1079.65L1020.46 1080.34L1025.19 1081.03L1029.91 1081.71L1034.64 1082.38L1039.37 1083.04L1044.09 1083.70L1048.82 1084.35L1053.55 1084.99L1058.27 1085.63L1063.00 1086.26L1067.73 1086.88L1072.45 1087.50L1077.18 1088.11L1081.91 1088.72L1086.63 1089.32L1091.36 1089.91L1096.09 1090.50L1100.81 1091.08L1105.54 1091.66L1110.27 1092.23L1114.99 1092.79L1119.72 1093.35L1124.45 1093.91L1129.17 1094.45L1133.90 1094.99L1138.63 1095.53L1143.35 1096.06L1148.08 1096.59L1152.81 1097.11L1157.53 1097.62L1162.26 1098.13L1166.99 1098.63L1171.71 1099.13L1176.44 1099.62L1181.17 1100.11L1185.89 1100.59L1190.62 1101.07L1195.35 1101.54L1200.07 1102.01L1204.80 1102.47L1209.53 1102.92L1214.25 1103.37L1218.98 1103.82L1223.71 1104.26L1228.43 1104.69L1233.16 1105.12L1237.89 1105.55L1242.61 1105.97L1247.34 1106.38L1252.07 1106.79L1256.79 1107.20L1261.52 1107.60L1266.25 1107.99L1270.97 1108.38L1275.70 1108.76L1280.43 1109.14L1285.15 1109.51L1289.88 1109.88L1294.61 1110.24L1299.33 1110.60L1772.00 1110.60"/>
<path d="M354.00 827.00L358.73 827.00L363.45 827.00L368.18 827.00L372.91 827.00L377.63 827.00L382.36 827.00L387.09 827.00L391.81 827.00L396.54 827.00L401.27 827.00L405.99 827.00L410.72 827.00L415.45 827.00L420.17 827.00L424.90 827.00L429.63 827.00L434.35 827.00L439.08 827.00L443.81 827.00L448.53 827.00L453.26 827.00L457.99 827.00L462.71 827.00L467.44 827.00L472.17 827.00L476.89 827.00L481.62 827.00L486.35 827.00L491.07 827.00L495.80 827.00L500.53 827.00L505.25 827.00L509.98 827.00L514.71 827.00L519.43 827.00L524.16 827.00L528.89 827.00L533.61 827.00L538.34 827.00L543.07 827.00L547.79 827.00L552.52 827.00L557.25 827.00L561.97 827.00L566.70 827.00L571.43 827.00L576.15 827.00L580.88 827.00L585.61 827.00L590.33 827.00L595.06 827.00L599.79 827.00L604.51 827.00L609.24 827.00L613.97 827.00L618.69 827.00L623.42 827.00L628.15 827.00L632.87 827.00L637.60 827.00L642.33 827.00L647.05 827.00L651.78 827.00L656.51 827.00L661.23 827.00L665.96 827.00L670.69 827.00L675.41 827.00L680.14 827.00L684.87 827.00L689.59 827.00L694.32 827.00L699.05 827.00L703.77 827.00L708.50 827.00L713.23 827.00L717.95 827.00L722.68 827.00L727.41 827.00L732.13 827.00L736.86 827.00L741.59 827.00L746.31 827.00L751.04 827.00L755.77 827.00L760.49 827.00L765.22 827.00L769.95 827.00L774.67 827.00L779.40 827.00L784.13 827.00L788.85 827.00L793.58 827.00L798.31 827.00L803.03 827.00L807.76 827.00L812.49 827.00L817.21 827.00L821.94 827.00L826.67 827.00L831.39 827.00L836.12 827.00L840.85 827.00L845.57 827.00L850.30 827.00L855.03 827.00L859.75 827.00L864.48 827.00L869.21 827.00L873.93 827.00L878.66 827.00L883.39 827.00L888.11 827.00L892.84 827.00L897.57 827.00L902.29 827.00L907.02 827.00L911.75 827.00L916.47 827.00L921.20 827.00L925.93 827.00L930.65 827.00L935.38 827.00L940.11 827.00L944.83 827.00L949.56 827.00L954.29 827.00L959.01 827.00L963.74 827.00L968.47 827.00L973.19 827.00L977.92 827.00L982.65 827.00L987.37 827.00L992.10 827.00L996.83 827.00L1001.55 827.00L1006.28 827.00L1011.01 827.00L1015.73 827.00L1020.46 827.00L1025.19 827.00L1029.91 827.00L1034.64 827.00L1039.37 827.00L1044.09 827.00L1048.82 827.00L1053.55 827.00L1058.27 827.00L1063.00 827.00L1067.73 827.00L1072.45 827.00L1077.18 827.00L1081.91 827.00L1086.63 827.00L1091.36 827.00L1096.09 827.00L1100.81 827.00L1105.54 827.00L1110.27 827.00L1114.99 827.00L1119.72 827.00L1124.45 827.00L1129.17 827.00L1133.90 827.00L1138.63 827.00L1143.35 827.00L1148.08 827.00L1152.81 827.00L1157.53 827.00L1162.26 827.00L1166.99 827.00L1171.71 827.00L1176.44 827.00L1181.17 827.00L1185.89 827.00L1190.62 827.00L1195.35 827.00L1200.07 827.00L1204.80 827.00L1209.53 827.00L1214.25 827.00L1218.98 827.00L1223.71 827.00L1228.43 827.00L1233.16 827.00L1237.89 827.00L1242.61 827.00L1247.34 827.00L1252.07 827.00L1256.79 827.00L1261.52 827.00L1266.25 827.00L1270.97 827.00L1275.70 827.00L1280.43 827.00L1285.15 827.00L1289.88 827.00L1294.61 827.00L1299.33 827.00L1772.00 827.00"/>
<path d="M354.00 827.00L358.73 822.78L363.45 818.64L368.18 814.57L372.91 810.56L377.63 806.63L382.36 802.76L387.09 798.95L391.81 795.21L396.54 791.53L401.27 787.92L405.99 784.36L410.72 780.86L415.45 777.42L420.17 774.03L424.90 770.70L429.63 767.42L434.35 764.19L439.08 761.02L443.81 757.90L448.53 754.82L453.26 751.79L457.99 748.81L462.71 745.88L467.44 742.99L472.17 740.15L476.89 737.35L481.62 734.59L486.35 731.87L491.07 729.20L495.80 726.56L500.53 723.97L505.25 721.41L509.98 718.89L514.71 716.41L519.43 713.96L524.16 711.55L528.89 709.18L533.61 706.83L538.34 704.53L543.07 702.25L547.79 700.01L552.52 697.80L557.25 695.62L561.97 693.47L566.70 691.35L571.43 689.27L576.15 687.21L580.88 685.17L585.61 683.17L590.33 681.19L595.06 679.25L599.79 677.32L604.51 675.43L609.24 673.55L613.97 671.71L618.69 669.89L623.42 668.09L628.15 666.32L632.87 664.56L637.60 662.84L642.33 661.13L647.05 659.45L651.78 657.79L656.51 656.15L661.23 654.53L665.96 652.93L670.69 651.35L675.41 649.80L680.14 648.26L684.87 646.74L689.59 645.24L694.32 643.76L699.05 642.29L703.77 640.85L708.50 639.42L713.23 638.01L717.95 636.62L722.68 635.24L727.41 633.88L732.13 632.54L736.86 631.22L741.59 629.90L746.31 628.61L751.04 627.33L755.77 626.06L760.49 624.81L765.22 623.58L769.95 622.36L774.67 621.15L779.40 619.96L784.13 618.78L788.85 617.62L793.58 616.46L798.31 615.32L803.03 614.20L807.76 613.09L812.49 611.98L817.21 610.90L821.94 609.82L826.67 608.76L831.39 607.70L836.12 606.66L840.85 605.63L845.57 604.62L850.30 603.61L855.03 602.61L859.75 601.63L864.48 600.66L869.21 599.69L873.93 598.74L878.66 597.80L883.39 596.86L888.11 595.94L892.84 595.03L897.57 594.12L902.29 593.23L907.02 592.35L911.75 591.47L916.47 590.60L921.20 589.75L925.93 588.90L930.65 588.06L935.38 587.23L940.11 586.41L944.83 585.59L949.56 584.79L954.29 583.99L959.01 583.20L963.74 582.42L968.47 581.65L973.19 580.89L977.92 580.13L982.65 579.38L987.37 578.64L992.10 577.91L996.83 577.18L1001.55 576.46L1006.28 575.75L1011.01 575.04L1015.73 574.35L1020.46 573.66L1025.19 572.97L1029.91 572.29L1034.64 571.62L1039.37 570.96L1044.09 570.30L1048.82 569.65L1053.55 569.01L1058.27 568.37L1063.00 567.74L1067.73 567.12L1072.45 566.50L1077.18 565.89L1081.91 565.28L1086.63 564.68L1091.36 564.09L1096.09 563.50L1100.81 562.92L1105.54 562.34L1110.27 561.77L1114.99 561.21L1119.72 560.65L1124.45 560.09L1129.17 559.55L1133.90 559.01L1138.63 558.47L1143.35 557.94L1148.08 557.41L1152.81 556.89L1157.53 556.38L1162.26 555.87L1166.99 555.37L1171.71 554.87L1176.44 554.38L1181.17 553.89L1185.89 553.41L1190.62 552.93L1195.35 552.46L1200.07 551.99L1204.80 551.53L1209.53 551.08L1214.25 550.63L1218.98 550.18L1223.71 549.74L1228.43 549.31L1233.16 548.88L1237.89 548.45L1242.61 548.03L1247.34 547.62L1252.07 547.21L1256.79 546.80L1261.52 546.40L1266.25 546.01L1270.97 545.62L1275.70 545.24L1280.43 544.86L1285.15 544.49L1289.88 544.12L1294.61 543.76L1299.33 543.40L1772.00 543.40"/>
<path d="M354.00 827.00L358.73 818.57L363.45 810.28L368.18 802.13L372.91 794.12L377.63 786.25L382.36 778.51L387.09 770.91L391.81 763.43L396.54 756.07L401.27 748.83L405.99 741.72L410.72 734.72L415.45 727.84L420.17 721.06L424.90 714.40L429.63 707.84L434.35 701.39L439.08 695.04L443.81 688.79L448.53 682.64L453.26 676.59L457.99 670.63L462.71 664.76L467.44 658.98L472.17 653.29L476.89 647.69L481.62 642.18L486.35 636.74L491.07 631.39L495.80 626.12L500.53 620.93L505.25 615.82L509.98 610.78L514.71 605.81L519.43 600.92L524.16 596.10L528.89 591.35L533.61 586.67L538.34 582.05L543.07 577.50L547.79 573.02L552.52 568.60L557.25 564.24L561.97 559.95L566.70 555.71L571.43 551.53L576.15 547.41L580.88 543.35L585.61 539.34L590.33 535.39L595.06 531.49L599.79 527.65L604.51 523.85L609.24 520.11L613.97 516.42L618.69 512.77L623.42 509.18L628.15 505.63L632.87 502.13L637.60 498.67L642.33 495.26L647.05 491.90L651.78 488.58L656.51 485.30L661.23 482.06L665.96 478.86L670.69 475.71L675.41 472.59L680.14 469.51L684.87 466.48L689.59 463.48L694.32 460.51L699.05 457.59L703.77 454.70L708.50 451.84L713.23 449.02L717.95 446.24L722.68 443.49L727.41 440.77L732.13 438.08L736.86 435.43L741.59 432.81L746.31 430.22L751.04 427.66L755.77 425.13L760.49 422.63L765.22 420.16L769.95 417.72L774.67 415.30L779.40 412.92L784.13 410.56L788.85 408.23L793.58 405.93L798.31 403.65L803.03 401.40L807.76 399.17L812.49 396.97L817.21 394.79L821.94 392.64L826.67 390.51L831.39 388.41L836.12 386.33L840.85 384.27L845.57 382.23L850.30 380.22L855.03 378.23L859.75 376.26L864.48 374.31L869.21 372.38L873.93 370.48L878.66 368.59L883.39 366.73L888.11 364.88L892.84 363.05L897.57 361.25L902.29 359.46L907.02 357.69L911.75 355.94L916.47 354.21L921.20 352.49L925.93 350.80L930.65 349.12L935.38 347.46L940.11 345.82L944.83 344.19L949.56 342.58L954.29 340.99L959.01 339.41L963.74 337.85L968.47 336.30L973.19 334.77L977.92 333.26L982.65 331.76L987.37 330.28L992.10 328.81L996.83 327.36L1001.55 325.92L1006.28 324.50L1011.01 323.09L1015.73 321.69L1020.46 320.31L1025.19 318.94L1029.91 317.59L1034.64 316.25L1039.37 314.92L1044.09 313.61L1048.82 312.31L1053.55 311.02L1058.27 309.75L1063.00 308.48L1067.73 307.23L1072.45 306.00L1077.18 304.77L1081.91 303.56L1086.63 302.36L1091.36 301.17L1096.09 300.00L1100.81 298.83L1105.54 297.68L1110.27 296.54L1114.99 295.41L1119.72 294.30L1124.45 293.19L1129.17 292.09L1133.90 291.01L1138.63 289.94L1143.35 288.88L1148.08 287.83L1152.81 286.79L1157.53 285.76L1162.26 284.74L1166.99 283.74L1171.71 282.74L1176.44 281.76L1181.17 280.78L1185.89 279.82L1190.62 278.86L1195.35 277.92L1200.07 276.99L1204.80 276.07L1209.53 275.15L1214.25 274.25L1218.98 273.36L1223.71 272.48L1228.43 271.61L1233.16 270.75L1237.89 269.90L1242.61 269.06L1247.34 268.23L1252.07 267.41L1256.79 266.61L1261.52 265.81L1266.25 265.02L1270.97 264.24L1275.70 263.48L1280.43 262.72L1285.15 261.97L1289.88 261.24L1294.61 260.51L1299.33 259.80L1772.00 259.80"/>
</g>
<g fill="none" stroke="#0000ff" stroke-width="4" stroke-linejoin="round" stroke-dasharray="16.8 3.2 8.9 4.1">
<path d="M354.00 827.00L358.73 835.65L363.45 844.22L368.18 852.70L372.91 861.08L377.63 869.38L382.36 877.59L387.09 885.71L391.81 893.74L396.54 901.68L401.27 909.53L405.99 917.30L410.72 924.97L415.45 932.56L420.17 940.06L424.90 947.47L429.63 954.80L434.35 962.04L439.08 969.19L443.81 976.26L448.53 983.24L453.26 990.13L457.99 996.94L462.71 1003.67L467.44 1010.31L472.17 1016.87L476.89 1023.35L481.62 1029.74L486.35 1036.05L491.07 1042.29L495.80 1048.44L500.53 1054.51L505.25 1060.50L509.98 1066.41L514.71 1072.25L519.43 1078.00L524.16 1083.68L528.89 1089.29L533.61 1094.81L538.34 1100.27L543.07 1105.64L547.79 1110.95L552.52 1116.18L557.25 1121.34L561.97 1126.43L566.70 1131.44L571.43 1136.39L576.15 1141.27L580.88 1146.08L585.61 1150.82L590.33 1155.49L595.06 1160.09L599.79 1164.63L604.51 1169.11L609.24 1173.51L613.97 1177.86L618.69 1182.14L623.42 1186.36L628.15 1190.51L632.87 1194.61L637.60 1198.64L642.33 1202.62L647.05 1206.53L651.78 1210.39L656.51 1214.19L661.23 1217.93L665.96 1221.61L670.69 1225.24L675.41 1228.81L680.14 1232.33L684.87 1235.80L689.59 1239.21L694.32 1242.56L699.05 1245.87L703.77 1249.12L708.50 1252.33L713.23 1255.48L717.95 1258.59L722.68 1261.64L727.41 1264.65L732.13 1267.61L736.86 1270.52L741.59 1273.38L746.31 1276.20L751.04 1278.97L755.77 1281.70L760.49 1284.39L765.22 1287.03L769.95 1289.62L774.67 1292.18L779.40 1294.69L784.13 1297.16L788.85 1299.59L793.58 1301.98L798.31 1304.33L803.03 1306.64L807.76 1308.91L812.49 1311.14L817.21 1313.33L821.94 1315.49L826.67 1317.61L831.39 1319.69L836.12 1321.74L840.85 1323.75L845.57 1325.72L850.30 1327.66L855.03 1329.57L859.75 1331.44L864.48 1333.28L869.21 1335.08L873.93 1336.86L878.66 1338.60L883.39 1340.31L888.11 1341.98L892.84 1343.63L897.57 1345.24L902.29 1346.83L907.02 1348.38L911.75 1349.91L916.47 1351.40L921.20 1352.87L925.93 1354.30L930.65 1355.71L935.38 1357.09L940.11 1358.45L944.83 1359.77L949.56 1361.07L954.29 1362.34L959.01 1363.59L963.74 1364.81L968.47 1366.00L973.19 1367.17L977.92 1368.31L982.65 1369.43L987.37 1370.52L992.10 1371.59L996.83 1372.63L1001.55 1373.65L1006.28 1374.64L1011.01 1375.61L1015.73 1376.56L1020.46 1377.48L1025.19 1378.38L1029.91 1379.26L1034.64 1380.12L1039.37 1380.95L1044.09 1381.76L1048.82 1382.55L1053.55 1383.31L1058.27 1384.05L1063.00 1384.78L1067.73 1385.48L1072.45 1386.15L1077.18 1386.81L1081.91 1387.45L1086.63 1388.06L1091.36 1388.65L1096.09 1389.22L1100.81 1389.78L1105.54 1390.31L1110.27 1390.82L1114.99 1391.31L1119.72 1391.77L1124.45 1392.22L1129.17 1392.65L1133.90 1393.06L1138.63 1393.44L1143.35 1393.81L1148.08 1394.15L1152.81 1394.48L1157.53 1394.79L1162.26 1395.07L1166.99 1395.33L1171.71 1395.58L1176.44 1395.80L1181.17 1396.01L1185.89 1396.19L1190.62 1396.35L1195.35 1396.49L1200.07 1396.62L1204.80 1396.72L1209.53 1396.80L1214.25 1396.86L1218.98 1396.89L1223.71 1396.91L1228.43 1396.91L1233.16 1396.88L1237.89 1396.84L1242.61 1396.77L1247.34 1396.68L1252.07 1396.57L1256.79 1396.43L1261.52 1396.28L1266.25 1396.10L1270.97 1395.90L1275.70 1395.67L1280.43 1395.43L1285.15 1395.15L1289.88 1394.86L1294.61 1394.54L1299.33 1394.20L1772.00 1394.20"/>
<path d="M354.00 827.00L358.73 829.86L363.45 832.73L368.18 835.60L372.91 838.47L377.63 841.35L382.36 844.23L387.09 847.12L391.81 850.00L396.54 852.89L401.27 855.78L405.99 858.66L410.72 861.55L415.45 864.44L420.17 867.32L424.90 870.20L429.63 873.08L434.35 875.96L439.08 878.83L443.81 881.70L448.53 884.57L453.26 887.43L457.99 890.28L462.71 893.13L467.44 895.97L472.17 898.81L476.89 901.64L481.62 904.46L486.35 907.27L491.07 910.07L495.80 912.87L500.53 915.66L505.25 918.43L509.98 921.20L514.71 923.96L519.43 926.70L524.16 929.44L528.89 932.16L533.61 934.87L538.34 937.57L543.07 940.26L547.79 942.94L552.52 945.60L557.25 948.25L561.97 950.89L566.70 953.51L571.43 956.12L576.15 958.71L580.88 961.29L585.61 963.86L590.33 966.41L595.06 968.95L599.79 971.47L604.51 973.97L609.24 976.46L613.97 978.93L618.69 981.39L623.42 983.83L628.15 986.26L632.87 988.66L637.60 991.05L642.33 993.43L647.05 995.78L651.78 998.12L656.51 1000.44L661.23 1002.75L665.96 1005.03L670.69 1007.30L675.41 1009.55L680.14 1011.78L684.87 1013.99L689.59 1016.18L694.32 1018.36L699.05 1020.52L703.77 1022.65L708.50 1024.77L713.23 1026.87L717.95 1028.95L722.68 1031.01L727.41 1033.05L732.13 1035.07L736.86 1037.07L741.59 1039.05L746.31 1041.01L751.04 1042.95L755.77 1044.87L760.49 1046.77L765.22 1048.65L769.95 1050.51L774.67 1052.35L779.40 1054.17L784.13 1055.97L788.85 1057.74L793.58 1059.50L798.31 1061.24L803.03 1062.95L807.76 1064.64L812.49 1066.32L817.21 1067.97L821.94 1069.60L826.67 1071.21L831.39 1072.80L836.12 1074.36L840.85 1075.91L845.57 1077.43L850.30 1078.93L855.03 1080.41L859.75 1081.87L864.48 1083.31L869.21 1084.72L873.93 1086.12L878.66 1087.49L883.39 1088.84L888.11 1090.16L892.84 1091.47L897.57 1092.75L902.29 1094.01L907.02 1095.25L911.75 1096.47L916.47 1097.66L921.20 1098.83L925.93 1099.98L930.65 1101.11L935.38 1102.21L940.11 1103.29L944.83 1104.35L949.56 1105.39L954.29 1106.40L959.01 1107.39L963.74 1108.36L968.47 1109.30L973.19 1110.22L977.92 1111.12L982.65 1111.99L987.37 1112.84L992.10 1113.67L996.83 1114.47L1001.55 1115.25L1006.28 1116.01L1011.01 1116.74L1015.73 1117.45L1020.46 1118.14L1025.19 1118.80L1029.91 1119.43L1034.64 1120.04L1039.37 1120.63L1044.09 1121.19L1048.82 1121.73L1053.55 1122.25L1058.27 1122.74L1063.00 1123.20L1067.73 1123.64L1072.45 1124.05L1077.18 1124.44L1081.91 1124.80L1086.63 1125.14L1091.36 1125.45L1096.09 1125.74L1100.81 1126.00L1105.54 1126.23L1110.27 1126.44L1114.99 1126.62L1119.72 1126.77L1124.45 1126.90L1129.17 1127.00L1133.90 1127.07L1138.63 1127.12L1143.35 1127.13L1148.08 1127.12L1152.81 1127.08L1157.53 1127.02L1162.26 1126.92L1166.99 1126.80L1171.71 1126.65L1176.44 1126.47L1181.17 1126.26L1185.89 1126.02L1190.62 1125.75L1195.35 1125.44L1200.07 1125.11L1204.80 1124.75L1209.53 1124.36L1214.25 1123.94L1218.98 1123.48L1223.71 1123.00L1228.43 1122.48L1233.16 1121.93L1237.89 1121.34L1242.61 1120.72L1247.34 1120.07L1252.07 1119.39L1256.79 1118.67L1261.52 1117.92L1266.25 1117.13L1270.97 1116.31L1275.70 1115.45L1280.43 1114.55L1285.15 1113.62L1289.88 1112.65L1294.61 1111.64L1299.33 1110.60L1772.00 1110.60"/>
<path d="M354.00 827.00L358.73 827.15L363.45 827.32L368.18 827.50L372.91 827.70L377.63 827.92L382.36 828.15L387.09 828.40L391.81 828.66L396.54 828.94L401.27 829.23L405.99 829.54L410.72 829.86L415.45 830.19L420.17 830.54L424.90 830.90L429.63 831.27L434.35 831.65L439.08 832.05L443.81 832.45L448.53 832.87L453.26 833.30L457.99 833.74L462.71 834.19L467.44 834.64L472.17 835.11L476.89 835.59L481.62 836.07L486.35 836.56L491.07 837.07L495.80 837.57L500.53 838.09L505.25 838.61L509.98 839.14L514.71 839.68L519.43 840.22L524.16 840.77L528.89 841.32L533.61 841.88L538.34 842.45L543.07 843.02L547.79 843.59L552.52 844.17L557.25 844.75L561.97 845.33L566.70 845.92L571.43 846.51L576.15 847.10L580.88 847.70L585.61 848.30L590.33 848.90L595.06 849.50L599.79 850.10L604.51 850.70L609.24 851.31L613.97 851.91L618.69 852.52L623.42 853.12L628.15 853.73L632.87 854.33L637.60 854.93L642.33 855.53L647.05 856.14L651.78 856.73L656.51 857.33L661.23 857.93L665.96 858.52L670.69 859.11L675.41 859.70L680.14 860.28L684.87 860.86L689.59 861.44L694.32 862.01L699.05 862.58L703.77 863.15L708.50 863.71L713.23 864.27L717.95 864.82L722.68 865.36L727.41 865.90L732.13 866.44L736.86 866.97L741.59 867.49L746.31 868.01L751.04 868.52L755.77 869.03L760.49 869.52L765.22 870.01L769.95 870.50L774.67 870.97L779.40 871.44L784.13 871.90L788.85 872.35L793.58 872.79L798.31 873.23L803.03 873.65L807.76 874.07L812.49 874.48L817.21 874.88L821.94 875.26L826.67 875.64L831.39 876.01L836.12 876.37L840.85 876.72L845.57 877.05L850.30 877.38L855.03 877.70L859.75 878.00L864.48 878.29L869.21 878.57L873.93 878.84L878.66 879.10L883.39 879.34L888.11 879.58L892.84 879.79L897.57 880.00L902.29 880.20L907.02 880.38L911.75 880.54L916.47 880.70L921.20 880.84L925.93 880.96L930.65 881.07L935.38 881.17L940.11 881.25L944.83 881.32L949.56 881.37L954.29 881.41L959.01 881.43L963.74 881.43L968.47 881.42L973.19 881.40L977.92 881.35L982.65 881.29L987.37 881.22L992.10 881.12L996.83 881.01L1001.55 880.89L1006.28 880.74L1011.01 880.58L1015.73 880.40L1020.46 880.20L1025.19 879.98L1029.91 879.74L1034.64 879.49L1039.37 879.22L1044.09 878.92L1048.82 878.61L1053.55 878.27L1058.27 877.92L1063.00 877.55L1067.73 877.15L1072.45 876.74L1077.18 876.30L1081.91 875.85L1086.63 875.37L1091.36 874.87L1096.09 874.35L1100.81 873.80L1105.54 873.23L1110.27 872.64L1114.99 872.03L1119.72 871.40L1124.45 870.74L1129.17 870.05L1133.90 869.35L1138.63 868.61L1143.35 867.86L1148.08 867.08L1152.81 866.27L1157.53 865.44L1162.26 864.58L1166.99 863.69L1171.71 862.78L1176.44 861.85L1181.17 860.88L1185.89 859.89L1190.62 858.87L1195.35 857.83L1200.07 856.75L1204.80 855.65L1209.53 854.51L1214.25 853.35L1218.98 852.16L1223.71 850.94L1228.43 849.69L1233.16 848.40L1237.89 847.09L1242.61 845.74L1247.34 844.37L1252.07 842.96L1256.79 841.51L1261.52 840.04L1266.25 838.53L1270.97 836.99L1275.70 835.41L1280.43 833.80L1285.15 832.15L1289.88 830.47L1294.61 828.75L1299.33 827.00L1772.00 827.00"/>
<path d="M354.00 827.00L358.73 825.36L363.45 823.73L368.18 822.12L372.91 820.52L377.63 818.93L382.36 817.35L387.09 815.79L391.81 814.24L396.54 812.71L401.27 811.18L405.99 809.67L410.72 808.17L415.45 806.69L420.17 805.21L424.90 803.75L429.63 802.30L434.35 800.85L439.08 799.42L443.81 798.01L448.53 796.60L453.26 795.20L457.99 793.81L462.71 792.44L467.44 791.07L472.17 789.71L476.89 788.37L481.62 787.03L486.35 785.70L491.07 784.38L495.80 783.07L500.53 781.77L505.25 780.48L509.98 779.20L514.71 777.92L519.43 776.66L524.16 775.40L528.89 774.15L533.61 772.91L538.34 771.67L543.07 770.44L547.79 769.22L552.52 768.01L557.25 766.81L561.97 765.61L566.70 764.41L571.43 763.23L576.15 762.05L580.88 760.87L585.61 759.70L590.33 758.54L595.06 757.38L599.79 756.23L604.51 755.08L609.24 753.94L613.97 752.80L618.69 751.67L623.42 750.54L628.15 749.42L632.87 748.30L637.60 747.19L642.33 746.07L647.05 744.97L651.78 743.86L656.51 742.76L661.23 741.66L665.96 740.56L670.69 739.47L675.41 738.38L680.14 737.29L684.87 736.21L689.59 735.12L694.32 734.04L699.05 732.96L703.77 731.88L708.50 730.81L713.23 729.73L717.95 728.65L722.68 727.58L727.41 726.50L732.13 725.43L736.86 724.36L741.59 723.28L746.31 722.21L751.04 721.14L755.77 720.06L760.49 718.99L765.22 717.91L769.95 716.84L774.67 715.76L779.40 714.68L784.13 713.60L788.85 712.52L793.58 711.43L798.31 710.34L803.03 709.26L807.76 708.16L812.49 707.07L817.21 705.97L821.94 704.87L826.67 703.77L831.39 702.67L836.12 701.56L840.85 700.44L845.57 699.33L850.30 698.20L855.03 697.08L859.75 695.95L864.48 694.81L869.21 693.67L873.93 692.53L878.66 691.38L883.39 690.23L888.11 689.06L892.84 687.90L897.57 686.73L902.29 685.55L907.02 684.36L911.75 683.17L916.47 681.97L921.20 680.77L925.93 679.56L930.65 678.34L935.38 677.11L940.11 675.88L944.83 674.63L949.56 673.38L954.29 672.12L959.01 670.86L963.74 669.58L968.47 668.30L973.19 667.00L977.92 665.70L982.65 664.39L987.37 663.07L992.10 661.74L996.83 660.39L1001.55 659.04L1006.28 657.68L1011.01 656.31L1015.73 654.92L1020.46 653.53L1025.19 652.12L1029.91 650.70L1034.64 649.27L1039.37 647.83L1044.09 646.38L1048.82 644.91L1053.55 643.44L1058.27 641.95L1063.00 640.44L1067.73 638.92L1072.45 637.39L1077.18 635.85L1081.91 634.29L1086.63 632.72L1091.36 631.13L1096.09 629.53L1100.81 627.91L1105.54 626.28L1110.27 624.64L1114.99 622.98L1119.72 621.30L1124.45 619.60L1129.17 617.90L1133.90 616.17L1138.63 614.43L1143.35 612.67L1148.08 610.89L1152.81 609.10L1157.53 607.28L1162.26 605.46L1166.99 603.61L1171.71 601.74L1176.44 599.86L1181.17 597.95L1185.89 596.03L1190.62 594.09L1195.35 592.13L1200.07 590.14L1204.80 588.14L1209.53 586.12L1214.25 584.07L1218.98 582.01L1223.71 579.92L1228.43 577.82L1233.16 575.69L1237.89 573.53L1242.61 571.36L1247.34 569.16L1252.07 566.94L1256.79 564.70L1261.52 562.43L1266.25 560.14L1270.97 557.82L1275.70 555.48L1280.43 553.12L1285.15 550.73L1289.88 548.31L1294.61 545.87L1299.33 543.40L1772.00 543.40"/>
<path d="M354.00 827.00L358.73 824.02L363.45 821.04L368.18 818.07L372.91 815.10L377.63 812.14L382.36 809.18L387.09 806.23L391.81 803.28L396.54 800.34L401.27 797.40L405.99 794.47L410.72 791.54L415.45 788.62L420.17 785.70L424.90 782.79L429.63 779.88L434.35 776.98L439.08 774.08L443.81 771.18L448.53 768.29L453.26 765.40L457.99 762.52L462.71 759.64L467.44 756.77L472.17 753.90L476.89 751.03L481.62 748.17L486.35 745.31L491.07 742.46L495.80 739.61L500.53 736.76L505.25 733.92L509.98 731.09L514.71 728.25L519.43 725.42L524.16 722.59L528.89 719.77L533.61 716.95L538.34 714.14L543.07 711.32L547.79 708.52L552.52 705.71L557.25 702.91L561.97 700.11L566.70 697.31L571.43 694.52L576.15 691.73L580.88 688.95L585.61 686.16L590.33 683.38L595.06 680.60L599.79 677.83L604.51 675.06L609.24 672.29L613.97 669.52L618.69 666.76L623.42 664.00L628.15 661.24L632.87 658.48L637.60 655.73L642.33 652.98L647.05 650.23L651.78 647.48L656.51 644.74L661.23 641.99L665.96 639.25L670.69 636.51L675.41 633.78L680.14 631.04L684.87 628.31L689.59 625.58L694.32 622.85L699.05 620.12L703.77 617.39L708.50 614.67L713.23 611.94L717.95 609.22L722.68 606.50L727.41 603.78L732.13 601.06L736.86 598.34L741.59 595.62L746.31 592.91L751.04 590.19L755.77 587.48L760.49 584.77L765.22 582.05L769.95 579.34L774.67 576.63L779.40 573.92L784.13 571.21L788.85 568.49L793.58 565.78L798.31 563.07L803.03 560.36L807.76 557.65L812.49 554.94L817.21 552.23L821.94 549.52L826.67 546.81L831.39 544.10L836.12 541.39L840.85 538.68L845.57 535.96L850.30 533.25L855.03 530.54L859.75 527.82L864.48 525.11L869.21 522.39L873.93 519.67L878.66 516.95L883.39 514.23L888.11 511.51L892.84 508.79L897.57 506.06L902.29 503.34L907.02 500.61L911.75 497.88L916.47 495.15L921.20 492.42L925.93 489.68L930.65 486.95L935.38 484.21L940.11 481.47L944.83 478.73L949.56 475.98L954.29 473.23L959.01 470.48L963.74 467.73L968.47 464.97L973.19 462.22L977.92 459.46L982.65 456.69L987.37 453.92L992.10 451.15L996.83 448.38L1001.55 445.60L1006.28 442.82L1011.01 440.04L1015.73 437.25L1020.46 434.46L1025.19 431.67L1029.91 428.87L1034.64 426.07L1039.37 423.26L1044.09 420.45L1048.82 417.64L1053.55 414.82L1058.27 412.00L1063.00 409.17L1067.73 406.34L1072.45 403.50L1077.18 400.66L1081.91 397.81L1086.63 394.96L1091.36 392.10L1096.09 389.24L1100.81 386.37L1105.54 383.50L1110.27 380.62L1114.99 377.74L1119.72 374.85L1124.45 371.96L1129.17 369.05L1133.90 366.15L1138.63 363.23L1143.35 360.32L1148.08 357.39L1152.81 354.46L1157.53 351.52L1162.26 348.58L1166.99 345.62L1171.71 342.67L1176.44 339.70L1181.17 336.73L1185.89 333.75L1190.62 330.76L1195.35 327.77L1200.07 324.77L1204.80 321.76L1209.53 318.74L1214.25 315.71L1218.98 312.68L1223.71 309.64L1228.43 306.59L1233.16 303.54L1237.89 300.47L1242.61 297.40L1247.34 294.31L1252.07 291.22L1256.79 288.12L1261.52 285.01L1266.25 281.89L1270.97 278.77L1275.70 275.63L1280.43 272.48L1285.15 269.33L1289.88 266.16L1294.61 262.99L1299.33 259.80L1772.00 259.80"/>
</g>
<g fill="#b2b2b2">
<path d="M444.45 95.45L455.45 110.45L444.45 125.45L433.45 110.45Z"/>
<path d="M444.50 178.40L457.70 201.10L431.30 201.10Z"/>
<path d="M459.30 276.60L436.80 289.60L436.80 263.60Z"/>
<rect x="814.65" y="102.55" width="15.90" height="15.90"/>
<circle cx="822.60" cy="193.40" r="10.5"/>
</g>
<g font-size="60px" stroke-width="1.3">
<text transform="translate(497.5 127.9) skewX(-5) scale(1.03 1.03)" style="font-family:'DejaVu Serif','Liberation Serif',serif" font-style="italic" font-size="53px" stroke-width="0.4">ϕ</text>
<text x="535.7" y="137.3" font-size="42px" stroke-width="1">0</text>
<text transform="translate(589.2 128.3) scale(1 0.86)" stroke-width="2">=</text>
<text x="653.9" y="127.3">0.1</text>
<text transform="translate(497.5 211.7) skewX(-5) scale(1.03 1.03)" style="font-family:'DejaVu Serif','Liberation Serif',serif" font-style="italic" font-size="53px" stroke-width="0.4">ϕ</text>
<text x="535.7" y="221.1" font-size="42px" stroke-width="1">0</text>
<text transform="translate(589.2 212.1) scale(1 0.86)" stroke-width="2">=</text>
<text x="653.9" y="211.1">0.3</text>
<text transform="translate(497.5 294.6) skewX(-5) scale(1.03 1.03)" style="font-family:'DejaVu Serif','Liberation Serif',serif" font-style="italic" font-size="53px" stroke-width="0.4">ϕ</text>
<text x="535.7" y="304.0" font-size="42px" stroke-width="1">0</text>
<text transform="translate(589.2 295.0) scale(1 0.86)" stroke-width="2">=</text>
<text x="653.9" y="294.0">0.5</text>
<text transform="translate(875.7 127.9) skewX(-5) scale(1.03 1.03)" style="font-family:'DejaVu Serif','Liberation Serif',serif" font-style="italic" font-size="53px" stroke-width="0.4">ϕ</text>
<text x="913.9" y="137.3" font-size="42px" stroke-width="1">0</text>
<text transform="translate(967.4 128.3) scale(1 0.86)" stroke-width="2">=</text>
<text x="1032.1" y="127.3">0.7</text>
<text transform="translate(875.7 211.7) skewX(-5) scale(1.03 1.03)" style="font-family:'DejaVu Serif','Liberation Serif',serif" font-style="italic" font-size="53px" stroke-width="0.4">ϕ</text>
<text x="913.9" y="221.1" font-size="42px" stroke-width="1">0</text>
<text transform="translate(967.4 212.1) scale(1 0.86)" stroke-width="2">=</text>
<text x="1032.1" y="211.1">0.9</text>
</g>
<rect x="706.86" y="121.57" width="11.52" height="7.38" fill="#ffffff"/><rect x="724.98" y="121.57" width="11.05" height="7.38" fill="#ffffff"/>
</svg></body></html>
